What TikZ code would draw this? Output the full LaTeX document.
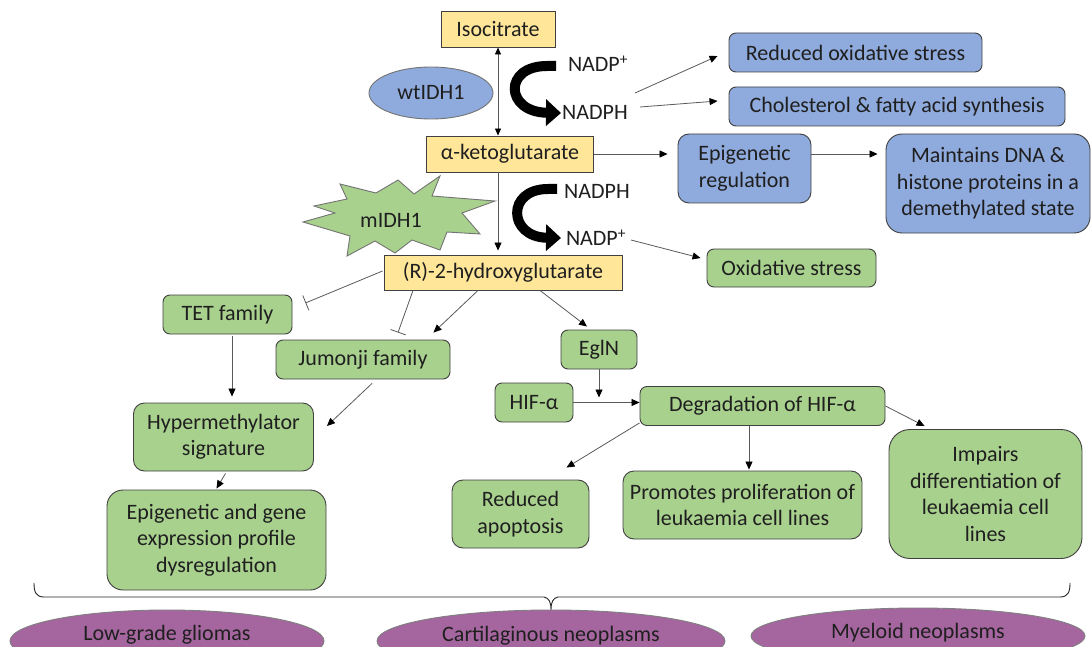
\documentclass[tikz,border=0pt]{standalone}
\usepackage{fontspec}
\setmainfont{Carlito}
\usetikzlibrary{arrows.meta,shapes.geometric,calc}
\definecolor{yel}{HTML}{FFE699}
\definecolor{blu}{HTML}{8FAADC}
\definecolor{grn}{HTML}{A9D18E}
\definecolor{pur}{HTML}{A5669F}
\definecolor{edgec}{HTML}{404040}
\definecolor{linec}{HTML}{595959}
\begin{document}
\begin{tikzpicture}[x=1pt,y=-1pt,
  font=\fontsize{22}{26.5}\selectfont,
  every node/.style={text=black!88, inner sep=0pt, align=center},
  ybox/.style={draw=edgec, fill=yel, line width=0.9pt},
  gbox/.style={draw=edgec, fill=grn, line width=0.9pt, rounded corners=7pt},
  bbox/.style={draw=edgec, fill=blu, line width=0.9pt, rounded corners=7pt},
  pell/.style={ellipse, draw=black!50, fill=pur, line width=0.9pt},
  conn/.style={draw=linec, line width=0.8pt, -{Triangle[length=8pt,width=7pt,color=black]}},
  conn2/.style={draw=linec, line width=0.8pt, {Triangle[length=7pt,width=6pt,color=black]}-{Triangle[length=7pt,width=6pt,color=black]}},
  inhib/.style={draw=linec, line width=0.8pt, -{Bar[width=16pt,line width=0.8pt]}},
  bigarr/.style={draw=black, line width=10pt, -{Triangle[length=15pt,width=26pt]}},
]
\useasboundingbox (0,0) rectangle (1092,647);

% ---- top yellow metabolites
\node[ybox, minimum width=114pt, minimum height=36pt] (iso) at (498,29) {Isocitrate};
\node[ybox, minimum width=167pt, minimum height=36pt] (akg) at (510,154) {α-ketoglutarate};
\node[ybox, minimum width=238pt, minimum height=35pt] (hg) at (503,272.5) {(R)-2-hydroxyglutarate};

% ---- enzymes
\node[ellipse, draw=black!55, fill=blu, line width=0.9pt, minimum width=124pt, minimum height=52pt] (wt) at (431,93) {wtIDH1};
\draw[draw=black!55, fill=grn, line width=0.9pt]
  (440,176) -- (432,196) -- (495,201) -- (462,213) -- (480,234) -- (447,232) --
  (440,250) -- (412,240) -- (395,253) -- (375,241) -- (347,256) -- (350,236) --
  (303,222) -- (335,213) -- (314,206) -- (347,199) -- (340,184) -- (376,193) --
  (398,180) -- (414,194) -- cycle;
\node (mi) at (391,220) {mIDH1};

% ---- cofactor labels
\node (np1) at (598,64) {NADP\textsuperscript{+}};
\node (nh1) at (595,112) {NADPH};
\node (nh2) at (597,191) {NADPH};
\node (np2) at (596,238) {NADP\textsuperscript{+}};

% ---- blue boxes
\node[bbox, minimum width=253pt, minimum height=39pt] (ros) at (855.5,52.5) {Reduced oxidative stress};
\node[bbox, minimum width=336pt, minimum height=39pt] (chol) at (897,106.5) {Cholesterol \& fatty acid synthesis};
\node[bbox, rounded corners=11pt, minimum width=133pt, minimum height=69pt] (epi) at (744.5,168.5) {Epigenetic\\regulation};
\node[bbox, rounded corners=16pt, minimum width=204pt, minimum height=99pt] (maint) at (988,183.5) {Maintains DNA \&\\histone proteins in a\\demethylated state};

% ---- green boxes
\node[gbox, minimum width=169pt, minimum height=38pt] (ox) at (791.5,268) {Oxidative stress};
\node[gbox, minimum width=129pt, minimum height=39pt] (tet) at (227.5,314.5) {TET family};
\node[gbox, minimum width=174pt, minimum height=39pt] (jum) at (363,359.5) {Jumonji family};
\node[gbox, minimum width=76pt, minimum height=39pt] (egln) at (599,349.5) {EglN};
\node[gbox, minimum width=78pt, minimum height=39pt] (hif) at (534,402.5) {HIF-α};
\node[gbox, minimum width=245pt, minimum height=39pt] (deg) at (762.5,406) {Degradation of HIF-α};
\node[gbox, rounded corners=11pt, minimum width=180pt, minimum height=68pt] (hyper) at (223.5,437) {Hypermethylator\\signature};
\node[gbox, rounded corners=16pt, minimum width=219pt, minimum height=100pt] (egp) at (216.5,540) {Epigenetic and gene\\expression profile\\dysregulation};
\node[gbox, rounded corners=11pt, minimum width=137pt, minimum height=68pt] (apo) at (520.5,514) {Reduced\\apoptosis};
\node[gbox, rounded corners=11pt, minimum width=239pt, minimum height=68pt] (prom) at (742.5,505) {Promotes proliferation of\\leukaemia cell lines};
\node[gbox, rounded corners=21pt, minimum width=193pt, minimum height=129pt] (imp) at (985.5,494) {Impairs\\differentiation of\\leukaemia cell\\lines};

% ---- purple disease ellipses
\node[pell, minimum width=314pt, minimum height=62pt] (lgg) at (167,641) {};
\node (lggt) at (167,635) {Low-grade gliomas};
\node[pell, minimum width=348pt, minimum height=62pt] (cart) at (551,641) {};
\node (cartt) at (551,636) {Cartilaginous neoplasms};
\node[pell, minimum width=334pt, minimum height=56pt] (mye) at (918,636) {};
\node (myet) at (918,633) {Myeloid neoplasms};

% ---- brace
\draw[draw=black!85, line width=0.9pt]
  (34,583) .. controls (34,592) and (36,597) .. (44,597) -- (544,597)
  .. controls (549,598) and (551,602) .. (551,610)
  .. controls (551,602) and (553,598) .. (558,597) -- (1060,597)
  .. controls (1068,597) and (1070,592) .. (1070,583);

% ---- curved cofactor arrows
\coordinate (ca1) at (556,66);
\coordinate (cb1) at (561,113);
\draw[bigarr] (ca1) -- (547,66) .. controls (503,66) and (505,112) .. (cb1);
\coordinate (ca2) at (557,189);
\coordinate (cb2) at (561,238);
\draw[bigarr] (ca2) -- (548,189) .. controls (506,189) and (508,237) .. (cb2);

% ---- connectors
\draw[conn2] (iso.south) -- (iso.south |- akg.north);
\coordinate (np1o) at (635,93);
\draw[conn] (np1o) -- ($(ros.west)+(-11,3.5)$);
\coordinate (nh1o) at (640,107);
\draw[conn] (nh1o) -- ($(chol.west)+(-11,-5.5)$);
\draw[conn] (akg.east) -- ($(akg.east -| epi.west)+(-10,0)$);
\draw[conn] (epi.east |- akg.east) -- ($(maint.west |- akg.east)+(-8,0)$);
\draw[conn] (iso.south |- akg.south) -- ($(iso.south |- hg.north)+(0,-4)$);
\coordinate (np2o) at (631,240);
\draw[conn] (np2o) -- ($(ox.west)+(-6,-10)$);

\draw[inhib] ($(hg.west)+(-1,-1.5)$) -- ($(tet.east)+(13,-11.5)$);
\draw[inhib] ($(hg.south)+(-90,0)$) -- ($(jum.north)+(35,-7)$);
\draw[conn] ($(hg.south)+(-25,0)$) -- ($(jum.north east)+(-17,-7)$);
\draw[conn] ($(hg.south)+(37,0)$) -- ($(egln.north)+(-12,-3)$);
\draw[conn] (egln.south) -- ($(egln.south |- hif.east)+(0,-5)$);
\draw[conn] (hif.east) -- (hif.east -| deg.west);

\draw[conn] ($(tet.south)+(4.5,2)$) -- ($(hyper.north)+(8.5,-6)$);
\draw[conn] ($(jum.south)+(9,4)$) -- ($(hyper.east)+(13,-11)$);
\draw[conn] ($(hyper.south)+(2,2)$) -- ($(egp.north)+(0,-1)$);

\draw[conn] ($(deg.south west)+(0,-3)$) -- ($(apo.north)+(46,-12)$);
\draw[conn] ($(deg.south)+(-13.5,0)$) -- ($(prom.north)+(6.5,-1)$);
\draw[conn] (deg.east) -- ($(imp.north west)+(36,-3)$);
\end{tikzpicture}
\end{document}
